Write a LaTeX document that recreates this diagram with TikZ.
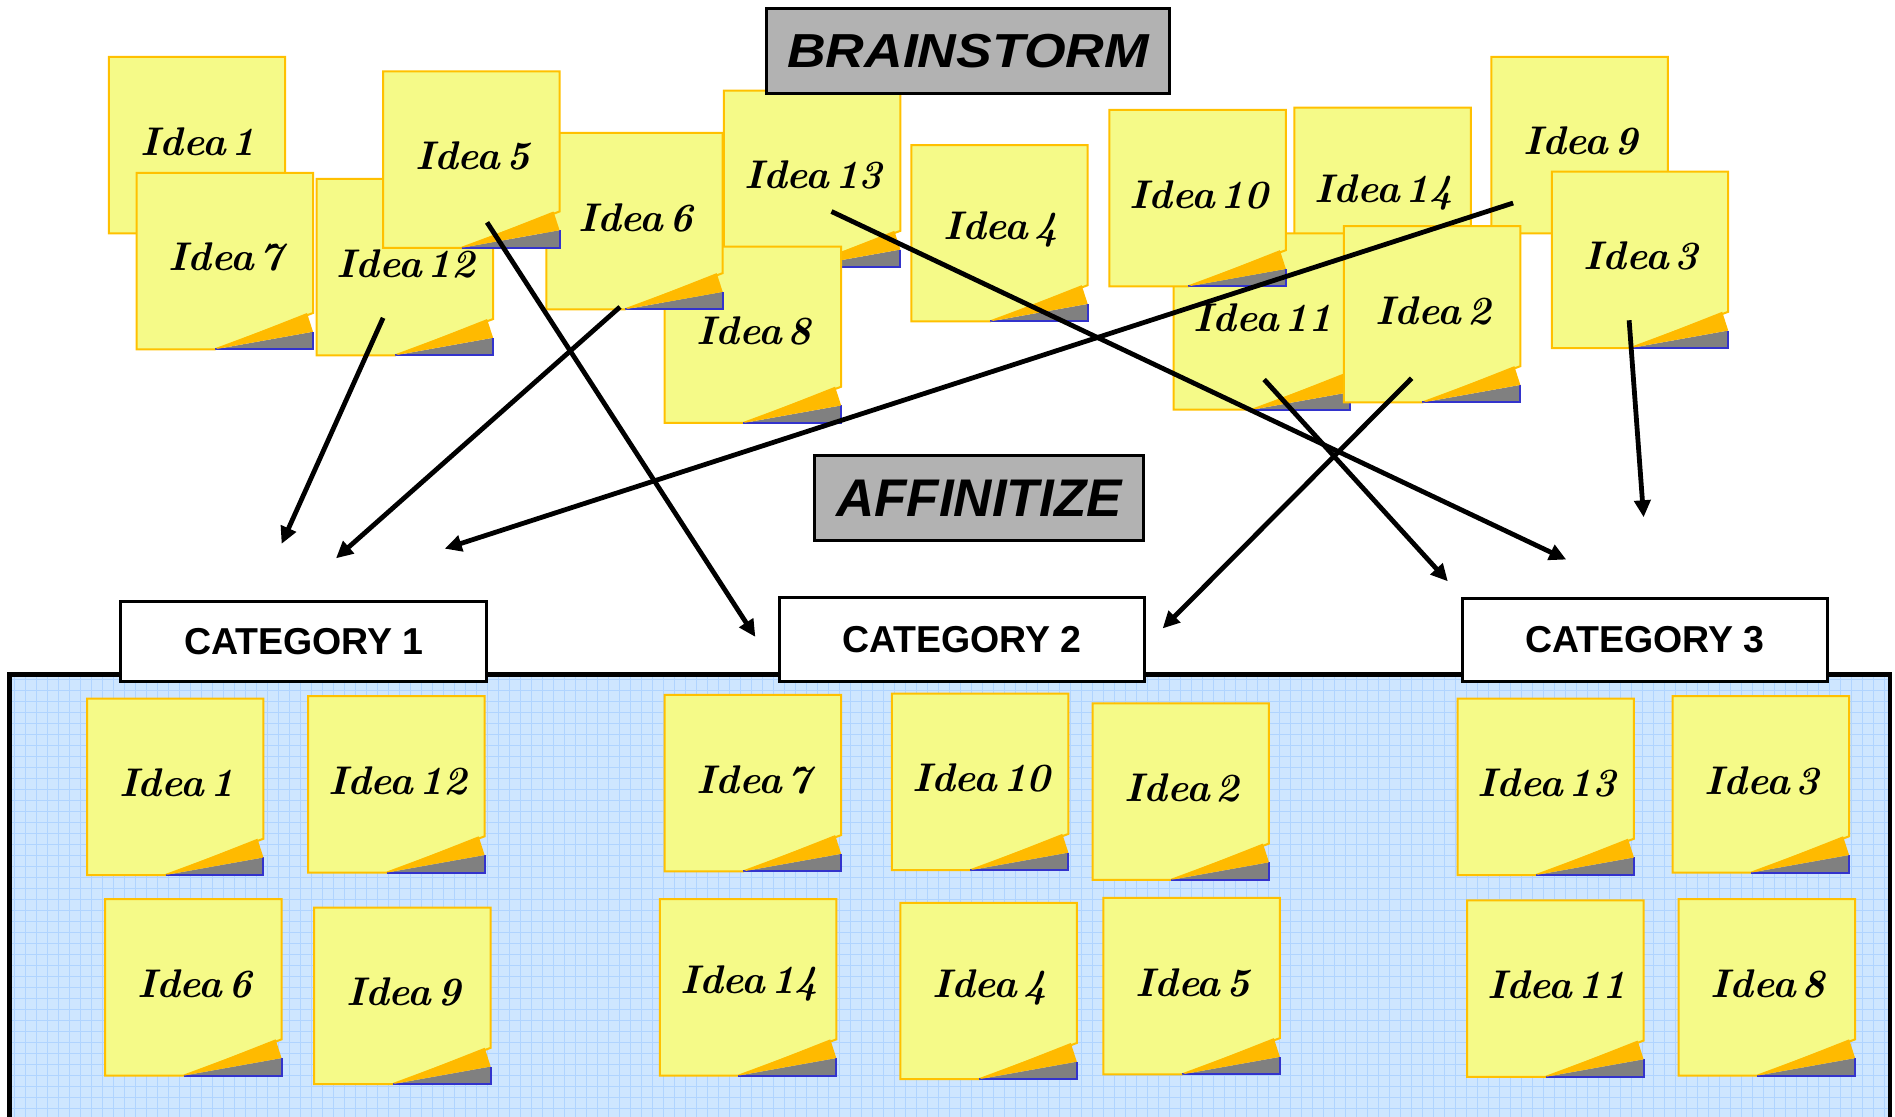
\documentclass[tikz,border=0pt]{standalone}
\usepackage{fontspec}
\usepackage{graphicx}
\newfontfamily\headfont{Liberation Sans}
\usetikzlibrary{arrows.meta}

\definecolor{noteyellow}{RGB}{245,250,136}
\definecolor{noteedge}{RGB}{255,192,0}
\definecolor{curlorange}{RGB}{255,186,0}
\definecolor{curlgray}{RGB}{128,128,128}
\definecolor{curlblue}{RGB}{51,51,204}
\definecolor{panelblue}{RGB}{206,230,255}
\definecolor{panelgrid}{RGB}{176,212,255}
\definecolor{titlegray}{RGB}{178,178,178}

\tikzset{
  notebody/.style={fill=noteyellow, draw=noteedge, line width=2pt, line join=miter},
  idea/.style={font=\fontsize{40}{44}\selectfont\bfseries\itshape, inner sep=0pt},
  titlebox/.style={draw=black, fill=titlegray, line width=3pt, inner sep=0pt,
    font=\headfont\fontsize{53}{60}\selectfont\bfseries\itshape},
  catbox/.style={draw=black, fill=white, line width=3pt, inner sep=0pt,
    font=\headfont\fontsize{37.5}{40}\selectfont\bfseries},
  flow/.style={line width=4.8pt, -{Triangle[length=17pt,width=16pt]}},
}

% sticky note: name, left, top, number (note is 146 units square)
\newcommand\stickynote[4]{%
  \begin{scope}[shift={(#2,#3)}]
    \filldraw[notebody] (0,0) -- (146,0) -- (146,116) -- (65,146) -- (0,146) -- cycle;
    \fill[curlgray] (65,146) -- (146,131.5) -- (146,146) -- cycle;
    \draw[curlblue, line width=2pt] (65,146) -- (146,146) -- (146,131.5);
    \fill[curlorange] (65,146) -- (141,116) -- (146,131.5) -- cycle;
    \node[idea] (#1) at (74,70) {Idea\hspace{0.15em}#4};
  \end{scope}}

\newcommand\cattext[1]{\raisebox{-0.1em}{#1}}

\begin{document}
\begin{tikzpicture}[x=1.2086pt, y=-1.2086pt]
  \useasboundingbox (0,0) rectangle (1568,924);

  % sorting board with its grid
  \begin{scope}
    \clip (0,0) rectangle (1568,924);
    \fill[panelblue] (8,558) rectangle (1564,940);
    \begin{scope}
      \clip (8,558) rectangle (1564,940);
      \foreach \gx in {12,21.1,...,1564}
        \draw[panelgrid, line width=1.2pt] (\gx,558) -- (\gx,940);
      \foreach \gy in {562,571.1,...,940}
        \draw[panelgrid, line width=1.2pt] (8,\gy) -- (1564,\gy);
    \end{scope}
    \draw[line width=4.5pt, line join=miter] (8,940) -- (8,558) -- (1564,558) -- (1564,940);
  \end{scope}

  % category headers
  \node[catbox, minimum width=366pt, minimum height=80pt] (cat1) at (251.5,531) {\cattext{CATEGORY 1}};
  \node[catbox, minimum width=365pt, minimum height=84.6pt] (cat2) at (796,529) {\cattext{CATEGORY 2}};
  \node[catbox, minimum width=365pt, minimum height=83.4pt] (cat3) at (1361,529.5) {\cattext{CATEGORY 3}};

  % sorted notes
  \stickynote{g1}{72}{578}{1}
  \stickynote{g12}{255}{576}{12}
  \stickynote{g6}{87}{744}{6}
  \stickynote{g9}{260}{751}{9}
  \stickynote{g7}{550}{575}{7}
  \stickynote{g10}{738}{574}{10}
  \stickynote{g2}{904}{582}{2}
  \stickynote{g14}{546}{744}{14}
  \stickynote{g4}{745}{747}{4}
  \stickynote{g5}{913}{743}{5}
  \stickynote{g13}{1206}{578}{13}
  \stickynote{g3}{1384}{576}{3}
  \stickynote{g11}{1214}{745}{11}
  \stickynote{g8}{1389}{744}{8}

  % brainstormed notes, back to front
  \stickynote{b1}{90}{47}{1}
  \stickynote{b7}{113}{143}{7}
  \stickynote{b13}{599}{75}{13}
  \stickynote{b8}{550}{204}{8}
  \stickynote{b6}{452}{110}{6}
  \stickynote{b12}{262}{148}{12}
  \stickynote{b5}{317}{59}{5}
  \stickynote{b4}{754}{120}{4}
  \stickynote{b14}{1071}{89}{14}
  \stickynote{b11}{971}{193}{11}
  \stickynote{b10}{918}{91}{10}
  \stickynote{b9}{1234}{47}{9}
  \stickynote{b2}{1112}{187}{2}
  \stickynote{b3}{1284}{142}{3}

  % stage titles
  \node[titlebox, minimum width=403.7pt, minimum height=84.6pt] (brainstorm) at (801,42)
    {\scalebox{1.01}[0.9]{BRAINSTORM}};
  \node[titlebox, minimum width=328.7pt, minimum height=84.6pt] (affinitize) at (810,412)
    {AFFINITIZE};

  % arrow ends
  \coordinate (from12) at (317,263);  \coordinate (into1a) at (233,450);
  \coordinate (from6)  at (513,254);  \coordinate (into1b) at (278,462);
  \coordinate (from9)  at (1252,168); \coordinate (into1c) at (368,454);
  \coordinate (from5)  at (403,184);  \coordinate (into2a) at (625,527);
  \coordinate (from2)  at (1168,313); \coordinate (into2b) at (962,520);
  \coordinate (from13) at (688,175);  \coordinate (into3a) at (1296,463);
  \coordinate (from11) at (1046,314); \coordinate (into3b) at (1198,481);
  \coordinate (from3)  at (1348,265); \coordinate (into3c) at (1360,428);

  \draw[flow] (from12) -- (into1a);
  \draw[flow] (from6) -- (into1b);
  \draw[flow] (from9) -- (into1c);
  \draw[flow] (from5) -- (into2a);
  \draw[flow] (from2) -- (into2b);
  \draw[flow] (from13) -- (into3a);
  \draw[flow] (from11) -- (into3b);
  \draw[flow] (from3) -- (into3c);
\end{tikzpicture}
\end{document}
